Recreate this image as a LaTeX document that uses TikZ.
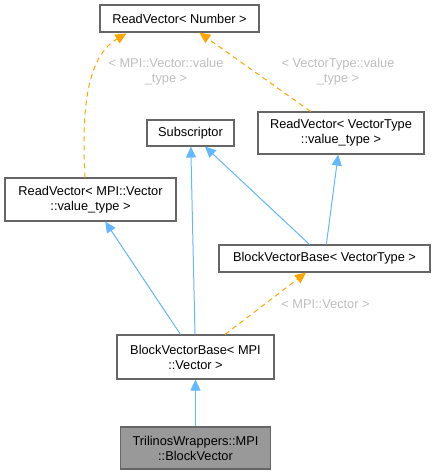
\documentclass[tikz,border=0pt]{standalone}
\usepackage{fontspec}
\setmainfont{Liberation Sans}
\usetikzlibrary{arrows.meta,calc}
\definecolor{edgeblue}{HTML}{63B8FF}
\definecolor{edgeorange}{HTML}{FFA500}
\definecolor{boxborder}{HTML}{666666}
\definecolor{labelgrey}{HTML}{BEBEBE}
\definecolor{curfill}{HTML}{999999}
\begin{document}
\begin{tikzpicture}[x=1pt,y=-1pt,
  font=\fontsize{12.8}{15}\selectfont,
  cls/.style={draw=boxborder,line width=1.1pt,fill=white,inner sep=0pt,align=center,
    text=black},
  curcls/.style={cls,fill=curfill},
  inh/.style={draw=edgeblue,line width=1pt,
    -{Triangle[length=11pt,width=10pt,fill=edgeblue]}},
  tmpl/.style={draw=edgeorange,line width=1pt,dash pattern=on 5pt off 4pt,
    -{Triangle[length=11pt,width=10pt,fill=edgeorange]}},
  lbl/.style={text=labelgrey,align=center,inner sep=0pt}]
\useasboundingbox (0,0) rectangle (436,475);
\node[cls,minimum width=159pt,minimum height=27pt] (rvn) at (179.5,18.5) {ReadVector< Number >};
\node[cls,minimum width=87pt,minimum height=26pt] (sub) at (190.5,133) {Subscriptor};
\node[cls,minimum width=166pt,minimum height=42pt] (rvvt) at (341,133) {ReadVector< VectorType\\::value\_type >};
\node[cls,minimum width=171pt,minimum height=43pt] (rvmpi) at (90.5,199.5) {ReadVector< MPI::Vector\\::value\_type >};
\node[cls,minimum width=211pt,minimum height=27pt] (bvbvt) at (324.5,258.5) {BlockVectorBase< VectorType >};
\node[cls,minimum width=157pt,minimum height=44pt] (bvbmpi) at (195.5,357) {BlockVectorBase< MPI\\::Vector >};
\node[curcls,minimum width=150pt,minimum height=42pt] (tw) at (195.5,448) {TrilinosWrappers::MPI\\::BlockVector};

\draw[inh] (tw) -- (bvbmpi);
\draw[inh] (bvbmpi) -- (rvmpi);
\draw[inh] (bvbmpi) -- (sub);
\draw[tmpl] (bvbmpi) -- (bvbvt);
\draw[inh] (bvbvt) -- (sub);
\draw[inh] (bvbvt) -- (rvvt);
\draw[tmpl] (rvvt) -- (rvn);
\draw[tmpl] ($(rvmpi.north)+(-5.5,0)$) .. controls (82,120) and (84,58) .. ($(rvn.south west)+(27,1)$);

\node[lbl] (l1) at (166,72) {< MPI::Vector::value\\\_type >};
\node[lbl] (l2) at (338,72) {< VectorType::value\\\_type >};
\node[lbl] (l3) at (325.5,304) {< MPI::Vector >};
\end{tikzpicture}
\end{document}
